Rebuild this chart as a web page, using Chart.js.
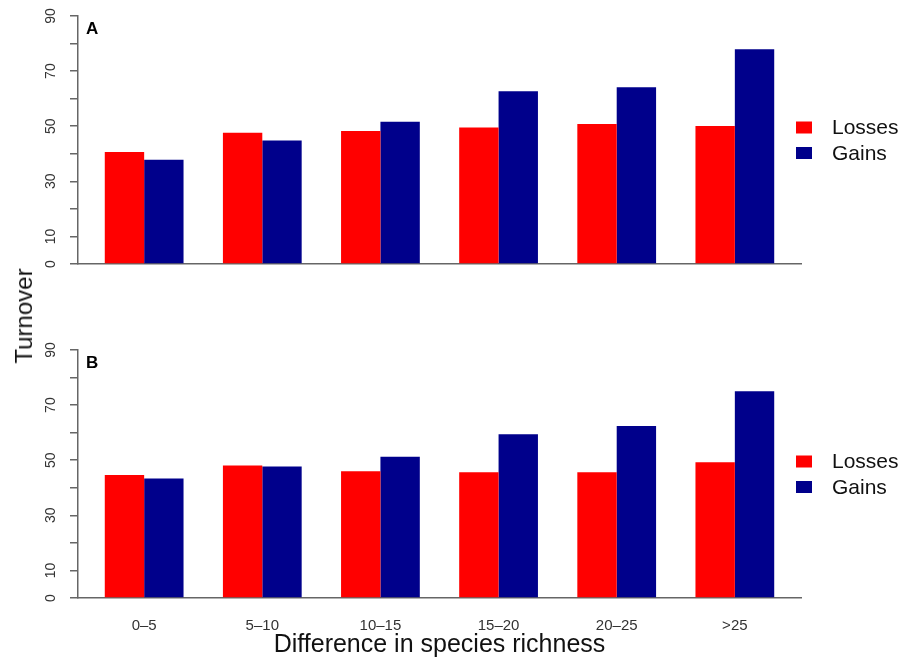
<!DOCTYPE html>
<html>
<head>
<meta charset="utf-8">
<script src="https://cdn.jsdelivr.net/npm/chart.js@4.4.1/dist/chart.umd.min.js"></script>
<style>
  html, body { margin: 0; padding: 0; background: #fff; }
  #wrap { position: relative; width: 901px; height: 660px; overflow: hidden;
          font-family: "Liberation Sans", Arial, Helvetica, sans-serif; }
  #panelA { position: absolute; left: 0; top: 0; }
  #panelB { position: absolute; left: 0; top: 334px; }
  #ytitle { position: absolute; left: 24px; top: 316px; transform: translate(-50%, -50%) rotate(-90deg);
            font-size: 24px; color: #111; white-space: nowrap; }
</style>
</head>
<body>
<div id="wrap">
  <canvas id="panelA" width="901" height="300"></canvas>
  <canvas id="panelB" width="901" height="326"></canvas>
  <div id="ytitle">Turnover</div>
</div>
<script>
// Richness-difference classes
const categories = ['0–5', '5–10', '10–15', '15–20', '20–25', '>25'];

// Panel A
const lossesA = [40.6, 47.6, 48.3, 49.5, 50.8, 50.1];
const gainsA  = [37.8, 44.8, 51.6, 62.7, 64.1, 77.9];

// Panel B
const lossesB = [44.6, 48.1, 46.0, 45.6, 45.6, 49.3];
const gainsB  = [43.4, 47.7, 51.3, 59.4, 62.4, 75.0];

// Labelled y ticks (minor ticks every 10 are unlabelled)
const yTickLabels = [0, 10, 30, 50, 70, 90];

const seriesNames  = ['Losses', 'Gains'];
const seriesColors = ['#ff0000', '#00008b'];

const FONT = '"Liberation Sans", Arial, Helvetica, sans-serif';

// Barplot layout: each group is one unit of space followed by two unit-wide bars
const groupCenters = categories.map((_, i) => 3 * i + 2);
const xLo = 1, xHi = 3 * categories.length;
const xPad = 0.04 * (xHi - xLo);

const decor = {
  id: 'decor',
  afterDraw(chart, args, opts) {
    const ctx = chart.ctx;
    const ca = chart.chartArea;
    const y = chart.scales.y;

    // rotated y tick labels
    ctx.save();
    ctx.fillStyle = '#333';
    ctx.font = '14px ' + FONT;
    ctx.textAlign = 'center';
    ctx.textBaseline = 'middle';
    yTickLabels.forEach(v => {
      ctx.save();
      ctx.translate(51, y.getPixelForValue(v));
      ctx.rotate(-Math.PI / 2);
      ctx.fillText(String(v), 0, 0);
      ctx.restore();
    });
    ctx.restore();

    // panel letter
    ctx.save();
    ctx.fillStyle = '#000';
    ctx.font = 'bold 17px ' + FONT;
    ctx.textAlign = 'left';
    ctx.textBaseline = 'alphabetic';
    ctx.fillText(opts.letter, ca.left + 8, ca.top + 18);
    ctx.restore();

    // legend
    ctx.save();
    ctx.font = '21px ' + FONT;
    ctx.textAlign = 'left';
    ctx.textBaseline = 'middle';
    chart.data.datasets.forEach((ds, i) => {
      const cy = ca.top + 111.5 + i * 25.5;
      ctx.fillStyle = ds.backgroundColor;
      ctx.fillRect(ca.right - 5, cy - 6, 16, 12);
      ctx.fillStyle = '#111';
      ctx.fillText(ds.label, ca.right + 31, cy + 1);
    });
    ctx.restore();
  }
};

function makePanel(canvasId, letter, losses, gains, showX) {
  const canvas = document.getElementById(canvasId);
  const plotBottom = 264;
  const series = [losses, gains];
  return new Chart(canvas, {
    type: 'bar',
    data: {
      datasets: series.map((vals, k) => ({
        label: seriesNames[k],
        data: groupCenters.map((x, i) => ({ x: x, y: vals[i] })),
        backgroundColor: seriesColors[k],
        borderWidth: 0,
        categoryPercentage: 2 / 3,
        barPercentage: 1
      }))
    },
    options: {
      responsive: false,
      animation: false,
      layout: { padding: { top: 16, right: 100, left: 0, bottom: 0 } },
      plugins: {
        legend: { display: false },
        tooltip: { enabled: false },
        decor: { letter: letter }
      },
      scales: {
        x: {
          type: 'linear',
          min: xLo - xPad,
          max: xHi + xPad,
          offset: false,
          grid: { display: false, offset: false, drawTicks: false },
          border: { display: true, color: '#666', width: 1.5 },
          afterBuildTicks: s => { s.ticks = groupCenters.map(v => ({ value: v })); },
          ticks: {
            display: showX,
            autoSkip: false,
            maxRotation: 0,
            padding: 19,
            color: '#333',
            font: { size: 15, family: FONT },
            callback: v => categories[groupCenters.indexOf(v)]
          },
          title: {
            display: showX,
            text: 'Difference in species richness',
            color: '#111',
            font: { size: 25, family: FONT },
            padding: { top: 0, bottom: 0 }
          },
          afterFit: s => { s.height = canvas.height - plotBottom; }
        },
        y: {
          min: 0,
          max: 90,
          ticks: { stepSize: 10, display: false },
          grid: { drawOnChartArea: false, drawTicks: true, tickLength: 8, color: '#666', lineWidth: 1.5 },
          border: { display: true, color: '#666', width: 1.5 },
          afterFit: s => { s.width = 78; }
        }
      }
    },
    plugins: [decor]
  });
}

makePanel('panelA', 'A', lossesA, gainsA, false);
makePanel('panelB', 'B', lossesB, gainsB, true);
</script>
</body>
</html>
